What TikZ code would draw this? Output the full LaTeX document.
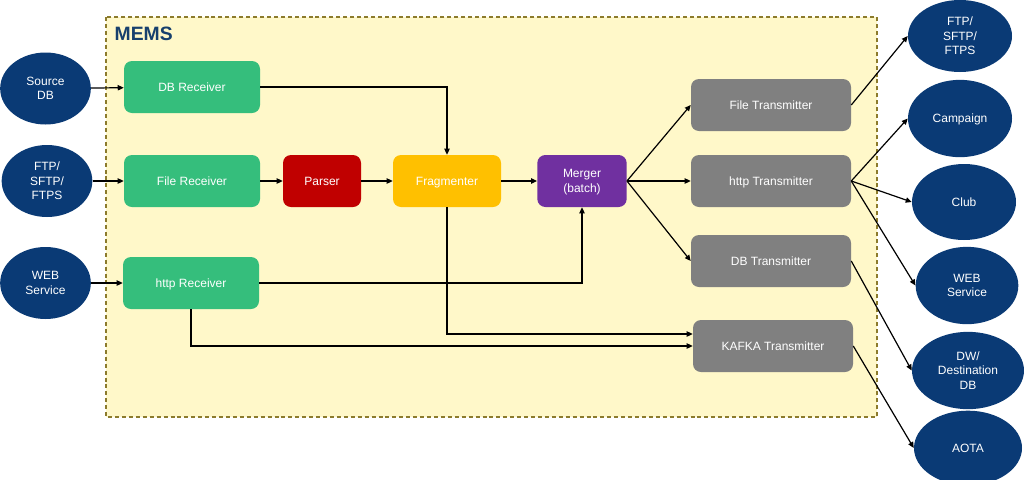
\documentclass[tikz,border=0pt]{standalone}
\usepackage{fontspec}
\setmainfont{Liberation Sans}
\usetikzlibrary{shapes.geometric,arrows.meta,positioning}

\definecolor{navy}{HTML}{0A3A75}
\definecolor{recvgreen}{HTML}{35BE7C}
\definecolor{parsered}{HTML}{C00000}
\definecolor{fragyellow}{HTML}{FFC000}
\definecolor{mergepurple}{HTML}{7030A0}
\definecolor{transgray}{HTML}{808080}
\definecolor{memsfill}{HTML}{FFF8C9}
\definecolor{memsline}{HTML}{8C7B2C}
\definecolor{memstext}{HTML}{17406D}

\tikzset{
  ext/.style={ellipse, fill=navy, text=white, minimum width=78pt, minimum height=56pt,
    inner sep=0pt, align=center, text depth=0pt, font=\fontsize{9}{10.9}\selectfont},
  srcext/.style={ext, minimum width=68pt, minimum height=54pt},
  proc/.style={rounded corners=6pt, text=white, minimum height=39pt, inner sep=0pt,
    align=center, text depth=0pt, font=\fontsize{9}{10.9}\selectfont},
  recv/.style={proc, fill=recvgreen, minimum width=102pt},
  trans/.style={proc, fill=transgray, minimum width=120pt},
  flow/.style={draw=black, line width=0.9pt, -{Triangle[length=4.5pt,width=4pt]}}
}

\begin{document}
\begin{tikzpicture}[x=0.75pt,y=-0.75pt]
        \useasboundingbox (0,0) rectangle (1024,479);
        % container
        \draw[fill=memsfill, draw=memsline, line width=1.4pt, dash pattern=on 3pt off 2.2pt]
          (106,17) rectangle (877,417);
        \node[anchor=west, text=memstext, font=\fontsize{14.5}{16}\selectfont\bfseries] (mems) at (110,34) {MEMS};

        % sources
        \node[srcext] (srcdb) at (45.5,88.5) {Source\\DB};
        \node[srcext] (srcftp) at (47,181) {FTP/\\SFTP/\\FTPS};
        \node[srcext] (srcweb) at (45.5,283) {WEB\\Service};

        % receivers and processing
        \node[recv] (dbrecv) at (192,87) {DB Receiver};
        \node[recv] (filerecv) at (192,181) {File Receiver};
        \node[recv] (httprecv) at (191,283) {http Receiver};
        \node[proc, fill=parsered, minimum width=58.5pt] (parser) at (322,181) {Parser};
        \node[proc, fill=fragyellow, minimum width=81pt] (frag) at (447,181) {Fragmenter};
        \node[proc, fill=mergepurple, minimum width=67pt] (merger) at (582,181) {Merger\\(batch)};

        % transmitters
        \node[trans] (filetx) at (771,105) {File Transmitter};
        \node[trans] (httptx) at (771,181) {http Transmitter};
        \node[trans] (dbtx) at (771,261) {DB Transmitter};
        \node[trans] (kafkatx) at (773,346) {KAFKA Transmitter};

        % destinations
        \node[ext, minimum height=54pt] (dstftp) at (960,36) {FTP/\\SFTP/\\FTPS};
        \node[ext, minimum height=58pt] (campaign) at (960,118.5) {Campaign};
        \node[ext, minimum height=57pt] (club) at (964,202) {Club};
        \node[ext, minimum width=77pt, minimum height=58pt] (dstweb) at (967,285.5) {WEB\\Service};
        \node[ext, minimum width=84pt, minimum height=58pt] (dstdb) at (968,370.5) {DW/\\Destination\\DB};
        \node[ext, minimum width=81pt, minimum height=56pt] (aota) at (968,448) {AOTA};

        \draw[flow] (srcdb) -- (dbrecv);
        \draw[flow] (srcftp) -- (filerecv);
        \draw[flow] (srcweb) -- (httprecv);
        \draw[flow] (dbrecv.east) -| (frag.north);
        \draw[flow] (filerecv) -- (parser);
        \draw[flow] (parser) -- (frag);
        \draw[flow] (frag) -- (merger);
        \draw[flow] (httprecv.east) -| (merger.south);
        \draw[flow] (frag.south) |- ([yshift=9pt]kafkatx.west);
        \draw[flow] (httprecv.south) |- (kafkatx.west);
        \draw[flow] (merger.east) -- (filetx.west);
        \draw[flow] (merger.east) -- (httptx.west);
        \draw[flow] (merger.east) -- (dbtx.west);
        \draw[flow] (filetx.east) -- (dstftp.west);
        \draw[flow] (httptx.east) -- (campaign.west);
        \draw[flow] (httptx.east) -- (club.west);
        \draw[flow] (httptx.east) -- (dstweb.west);
        \draw[flow] (dbtx.east) -- (dstdb.west);
        \draw[flow] (kafkatx.east) -- (aota.west);
    \end{tikzpicture}
\end{document}
